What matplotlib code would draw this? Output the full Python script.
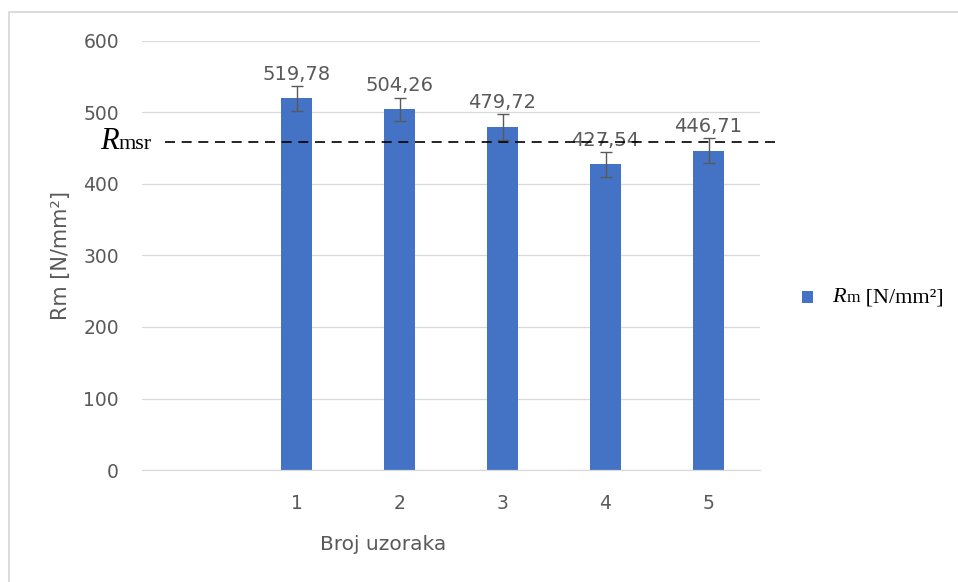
import matplotlib
matplotlib.use("Agg")
from matplotlib import pyplot as plt
from matplotlib.offsetbox import TextArea, HPacker, DrawingArea, AnchoredOffsetbox, AnnotationBbox
from matplotlib.patches import Rectangle

# tensile strength per sample
samples = ["1", "2", "3", "4", "5"]
positions = [1, 2, 3, 4, 5]
rm_values = [519.78, 504.26, 479.72, 427.54, 446.71]
rm_errors = [17.3, 16.4, 17.7, 17.1, 17.1]
rm_mean_line = 459
y_ticks = [0, 100, 200, 300, 400, 500, 600]

BAR = "#4472C4"
GREY = "#595959"
GRID = "#D9D9D9"
SERIF = "Liberation Serif"

plt.rcParams["font.family"] = ["DejaVu Sans"]

fig = plt.figure(figsize=(9.58, 5.82), dpi=100)
ax = fig.add_axes([142 / 958, 112 / 582, 618 / 958, 429 / 582])

ax.bar(positions, rm_values, width=0.3, color=BAR, zorder=2)
ax.errorbar(positions, rm_values, yerr=rm_errors, fmt="none", ecolor=GREY,
            elinewidth=1, capsize=4.5, capthick=1, zorder=3)

for x, v, e in zip(positions, rm_values, rm_errors):
    ax.annotate(f"{v:.2f}".replace(".", ","), (x, v + e), xytext=(0, 4.5),
                textcoords="offset points", ha="center", va="baseline",
                fontsize=14, color=GREY, zorder=4)

ax.set_xlim(-0.5, 5.5)
ax.set_ylim(0, 600)
ax.set_xticks(positions)
ax.set_xticklabels(samples)
ax.set_yticks(y_ticks)
ax.tick_params(axis="both", length=0, labelsize=13.5, labelcolor=GREY)
ax.tick_params(axis="x", pad=17)
ax.tick_params(axis="y", pad=16.5)

ax.grid(axis="y", color=GRID, linewidth=0.9)
ax.set_axisbelow(True)
for side in ["top", "right", "left"]:
    ax.spines[side].set_visible(False)
ax.spines["bottom"].set_color(GRID)
ax.spines["bottom"].set_linewidth(0.9)

ax.set_ylabel("Rm [N/mm²]", fontsize=15, color=GREY, va="center")
ax.yaxis.set_label_coords(-0.131, 0.5)
ax.set_xlabel("Broj uzoraka", fontsize=14.5, color=GREY, va="center")
ax.xaxis.set_label_coords(0.39, -0.1725)

# mean strength reference line
ax.axhline(rm_mean_line, xmin=0.037, xmax=1.032, color="black", linewidth=1.2,
           dashes=(6, 4), clip_on=False, zorder=5)
mean_label = HPacker(children=[
    TextArea("R", textprops=dict(family=SERIF, style="italic", size=22)),
    TextArea("msr", textprops=dict(family=SERIF, size=16)),
], align="baseline", pad=0, sep=0)
ax.add_artist(AnnotationBbox(mean_label, (0.016, rm_mean_line),
                             xycoords=ax.get_yaxis_transform(),
                             box_alignment=(1, 0.5), frameon=False, pad=0,
                             annotation_clip=False))

# legend
swatch = DrawingArea(8, 8, 0, 0)
swatch.add_artist(Rectangle((0, 0), 8, 8, facecolor=BAR, edgecolor="none"))
legend_text = HPacker(children=[
    TextArea("R", textprops=dict(family=SERIF, style="italic", size=16)),
    TextArea("m", textprops=dict(family=SERIF, size=12.5)),
    TextArea(" [N/mm²]", textprops=dict(family=SERIF, size=16)),
], align="baseline", pad=0, sep=0)
legend_box = HPacker(children=[swatch, legend_text], align="baseline", pad=0, sep=14)
fig.add_artist(AnchoredOffsetbox(loc="center left", child=legend_box, pad=0,
                                 borderpad=0, frameon=False,
                                 bbox_to_anchor=(802 / 958, 1 - 298 / 582),
                                 bbox_transform=fig.transFigure))

# chart area border
fig.add_artist(Rectangle((9 / 958, -0.1), 1.2, 1.1 - 11.5 / 582, transform=fig.transFigure,
                         fill=False, edgecolor=GRID, linewidth=1.3))

fig.savefig("out.png", dpi=100)
